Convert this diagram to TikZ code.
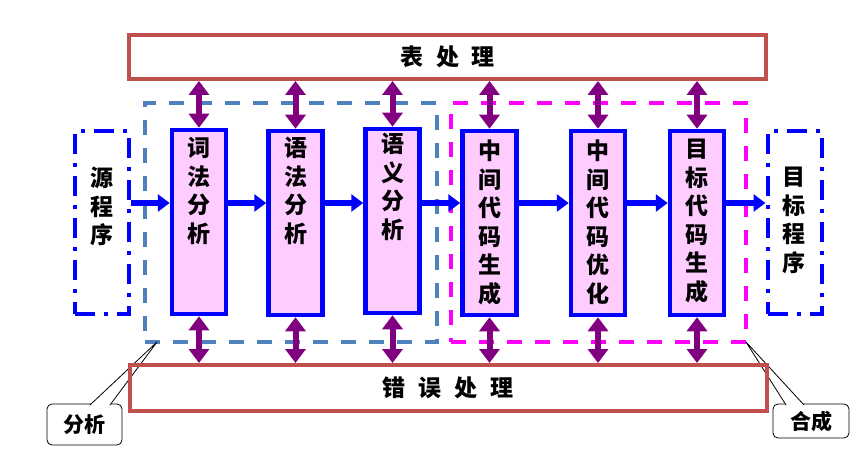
\documentclass[tikz,border=0pt]{standalone}
\usepackage{fontspec}
\newfontfamily\cjk{Noto Sans CJK SC}
\usetikzlibrary{arrows.meta}
\definecolor{redbox}{HTML}{C0504D}
\definecolor{steel}{HTML}{4F81BD}
\definecolor{purp}{HTML}{800080}
\definecolor{pinkfill}{HTML}{FFCCFF}
\definecolor{mag}{HTML}{FF00FF}
\tikzset{
  phasebox/.style={draw=blue, line width=4.5pt, fill=pinkfill, minimum width=54pt, minimum height=184pt, inner sep=0pt},
  progbox/.style={draw=blue, line width=4pt, dash pattern=on 20pt off 9pt on 4pt off 9pt, minimum width=54pt, minimum height=183pt, inner sep=0pt},
  procbox/.style={draw=redbox, line width=4pt, minimum width=637pt, inner sep=0pt, font=\cjk\bfseries\fontsize{23}{28}\selectfont},
  vtext/.style={font=\cjk\bfseries\fontsize{23}{28.5}\selectfont, align=center, anchor=north, inner sep=0pt},
  flow/.style={draw=blue, line width=6pt, -{Triangle[width=17pt,length=12pt]}},
  dual/.style={draw=purp, line width=6pt, {Triangle[width=20pt,length=14pt]}-{Triangle[width=20pt,length=14pt]}},
  groupbox/.style={line width=3.5pt, dash pattern=on 15pt off 13pt, inner sep=0pt},
  callout/.style={draw=black, line width=0.8pt, fill=white, rounded corners=5pt, inner sep=0pt, font=\cjk\bfseries\fontsize{21}{24}\selectfont},
}
\newcommand{\gapch}{\hspace{13pt}}
\begin{document}
\begin{tikzpicture}[x=1pt,y=-1pt]
\useasboundingbox (0,0) rectangle (867,457);
% group boxes
\node[groupbox, draw=steel, minimum width=292pt, minimum height=239pt] (ana) at (291,222.5) {};
\node[groupbox, draw=mag, minimum width=295pt, minimum height=239pt] (syn) at (598.5,222.5) {};
% callouts
\node[callout, minimum width=75pt, minimum height=41pt] (ca) at (84.5,424.5) {分析};
\node[callout, minimum width=76pt, minimum height=34pt] (cb) at (811,421) {合成};
\coordinate (tipa) at (157,342);
\coordinate (a1) at (90,405);
\coordinate (a2) at (110,405);
\coordinate (tipb) at (746,342);
\coordinate (b1) at (786,405);
\coordinate (b2) at (804,405);
\fill[white] (tipa) -- (a1) -- (a2) -- cycle;
\draw[line width=0.8pt] (a1) -- (tipa) -- (a2);
\fill[white] (tipb) -- (b1) -- (b2) -- cycle;
\draw[line width=0.8pt] (b1) -- (tipb) -- (b2);
% table and error boxes
\node[procbox, minimum height=44pt] (tbl) at (447.5,57) {表\gapch 处\gapch 理};
\node[procbox, minimum height=46pt] (err) at (448,388) {错\gapch 误\gapch 处\gapch 理};
% program boxes
\node[progbox] (src) at (102,222.5) {};
\node[vtext] at (102,167) {源\\程\\序};
\node[progbox] (tgt) at (794.5,222.5) {};
\node[vtext] at (794,167) {目\\标\\程\\序};
% phase boxes
\node[phasebox] (p1) at (199,222) {};
\node[phasebox] (p2) at (295.5,223) {};
\node[phasebox] (p3) at (392.5,221) {};
\node[phasebox] (p4) at (489.5,223) {};
\node[phasebox] (p5) at (598,223) {};
\node[phasebox] (p6) at (697,223) {};
\node[vtext] at (199,137) {词\\法\\分\\析};
\node[vtext] at (295.5,137) {语\\法\\分\\析};
\node[vtext] at (392.5,133) {语\\义\\分\\析};
\node[vtext] at (489.5,140) {中\\间\\代\\码\\生\\成};
\node[vtext] at (598,140) {中\\间\\代\\码\\优\\化};
\node[vtext] at (697,139) {目\\标\\代\\码\\生\\成};
% flow arrows
\draw[flow] (src.east |- 0,203) -- (p1.west |- 0,203);
\draw[flow] (p1.east |- 0,203) -- (p2.west |- 0,203);
\draw[flow] (p2.east |- 0,203) -- (p3.west |- 0,203);
\draw[flow] (p3.east |- 0,203) -- (p4.west |- 0,203);
\draw[flow] (p4.east |- 0,203) -- (p5.west |- 0,203);
\draw[flow] (p5.east |- 0,203) -- (p6.west |- 0,203);
\draw[flow] (p6.east |- 0,203) -- (tgt.west |- 0,203);
% table / error arrows
\foreach \p in {p1,p2,p3,p4,p5,p6}{
  \draw[dual] (\p.north |- tbl.south) -- (\p.north);
  \draw[dual] (\p.south) -- (\p.south |- err.north);
}
\end{tikzpicture}
\end{document}
